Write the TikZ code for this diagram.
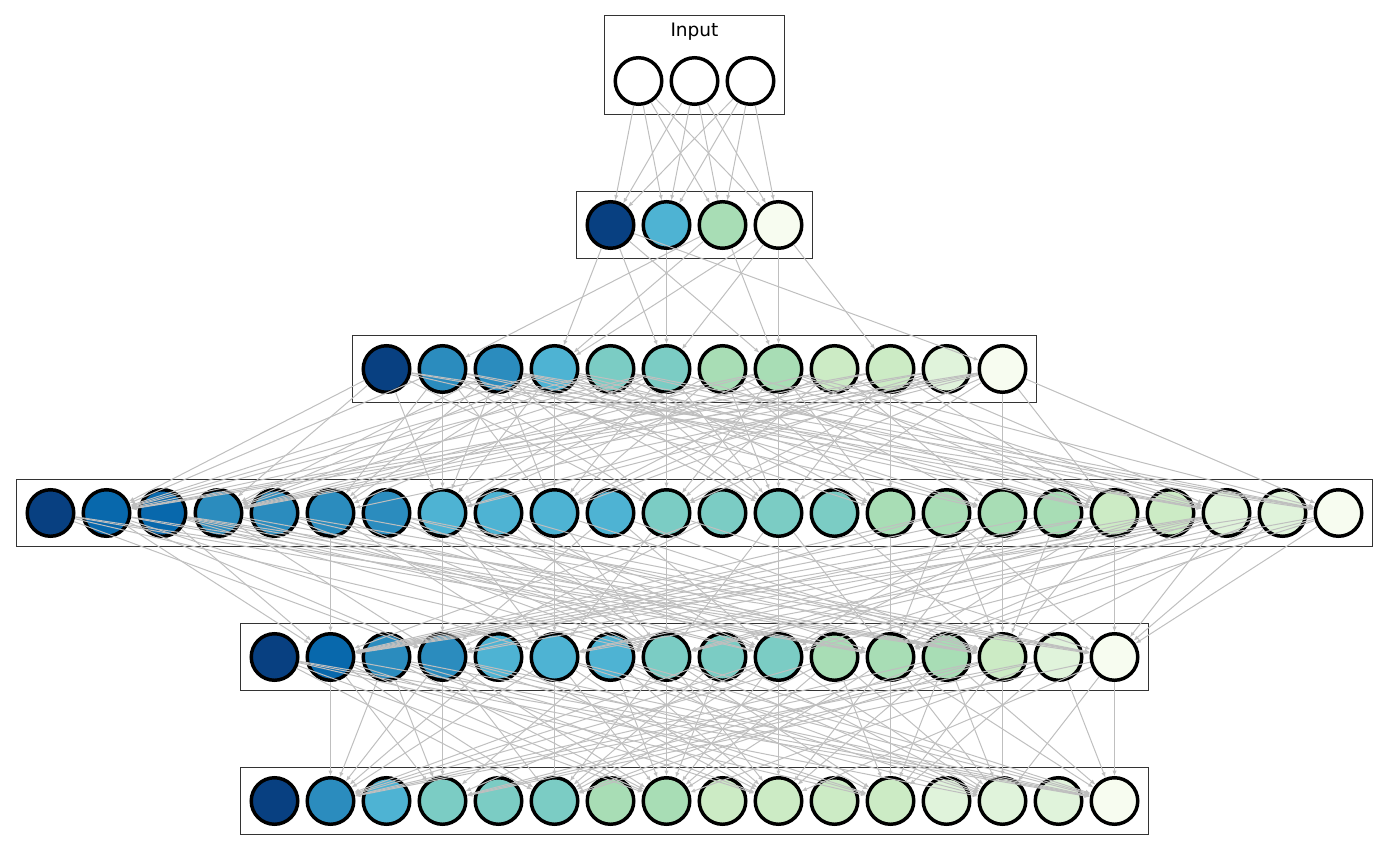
\documentclass[tikz,border=0pt]{standalone}
\usepackage{fontspec}
\setmainfont{DejaVu Sans}
\usetikzlibrary{arrows.meta,fit}
\definecolor{gnb0}{HTML}{084081}
\definecolor{gnb1}{HTML}{0868AC}
\definecolor{gnb2}{HTML}{2B8CBE}
\definecolor{gnb3}{HTML}{4EB3D3}
\definecolor{gnb4}{HTML}{7BCCC4}
\definecolor{gnb5}{HTML}{A8DDB5}
\definecolor{gnb6}{HTML}{CCEBC5}
\definecolor{gnb7}{HTML}{E0F3DB}
\definecolor{gnb8}{HTML}{F7FCF0}
\tikzset{
  unit/.style     = {circle, draw=black, line width=2.6pt, minimum size=34.9pt,
                     inner sep=0pt},
  edge/.style     = {-{Latex[length=4pt,width=3.2pt]}, draw=black!25, line width=0.75pt},
  layerbox/.style = {draw=black!80, line width=1pt, inner sep=6.6pt},
}

\begin{document}
\begin{tikzpicture}[x=0.75pt,y=-0.75pt]
  \useasboundingbox (0,0) rectangle (1389,852);
  % units, one row per layer
  \node[inner sep=0pt, inner ysep=-1.5pt, font=\fontsize{13.9}{16}\selectfont] (inlabel)
    at (694.5,31.2) {Input};
  \foreach \k in {0,1,2}
    \node[unit, fill=white] (i\k) at ({638.5+56*\k},81) {};
  \foreach \c [count=\k from 0] in {0,3,5,8}
    \node[unit, fill=gnb\c] (l1-\k) at ({610.5+56*\k},225) {};
  \foreach \c [count=\k from 0] in {0,2,2,3,4,4,5,5,6,6,7,8}
    \node[unit, fill=gnb\c] (l2-\k) at ({386.5+56*\k},369) {};
  \foreach \c [count=\k from 0] in {0,1,1,2,2,2,2,3,3,3,3,4,4,4,4,5,5,5,5,6,6,7,7,8}
    \node[unit, fill=gnb\c] (l3-\k) at ({50.5+56*\k},513) {};
  \foreach \c [count=\k from 0] in {0,1,2,2,3,3,3,4,4,4,5,5,5,6,7,8}
    \node[unit, fill=gnb\c] (l4-\k) at ({274.5+56*\k},657) {};
  \foreach \c [count=\k from 0] in {0,2,3,4,4,4,5,5,6,6,6,6,7,7,7,8}
    \node[unit, fill=gnb\c] (l5-\k) at ({274.5+56*\k},801) {};

  % layer frames
  \node[layerbox, fit=(inlabel)(i0)(i2)] (box0) {};
  \node[layerbox, fit=(l1-0)(l1-3)] (box1) {};
  \node[layerbox, fit=(l2-0)(l2-11)] (box2) {};
  \node[layerbox, fit=(l3-0)(l3-23)] (box3) {};
  \node[layerbox, fit=(l4-0)(l4-15)] (box4) {};
  \node[layerbox, fit=(l5-0)(l5-15)] (box5) {};

  % connections: odd units take inputs, the one straight above always
  \pgfmathsetseed{11}
  \foreach \s in {0,1,2} \foreach \t in {0,...,3}
    \draw[edge] (i\s) -- (l1-\t);
  \foreach \t in {1,3,...,11} \foreach \s in {0,...,3} {
    \pgfmathtruncatemacro{\keep}{rnd<0.55 || \t==\s+4}
    \ifnum\keep=1 \draw[edge] (l1-\s) -- (l2-\t); \fi
  }
  \foreach \t in {1,3,...,23} \foreach \s in {0,...,11} {
    \pgfmathtruncatemacro{\keep}{rnd<0.55 || \t==\s+6}
    \ifnum\keep=1 \draw[edge] (l2-\s) -- (l3-\t); \fi
  }
  \foreach \t in {1,3,...,15} \foreach \s in {0,...,23} {
    \pgfmathtruncatemacro{\keep}{rnd<0.45 || \t==\s-4}
    \ifnum\keep=1 \draw[edge] (l3-\s) -- (l4-\t); \fi
  }
  \foreach \t in {1,3,...,15} \foreach \s in {0,...,15} {
    \pgfmathtruncatemacro{\keep}{rnd<0.6 || \t==\s}
    \ifnum\keep=1 \draw[edge] (l4-\s) -- (l5-\t); \fi
  }
\end{tikzpicture}
\end{document}
